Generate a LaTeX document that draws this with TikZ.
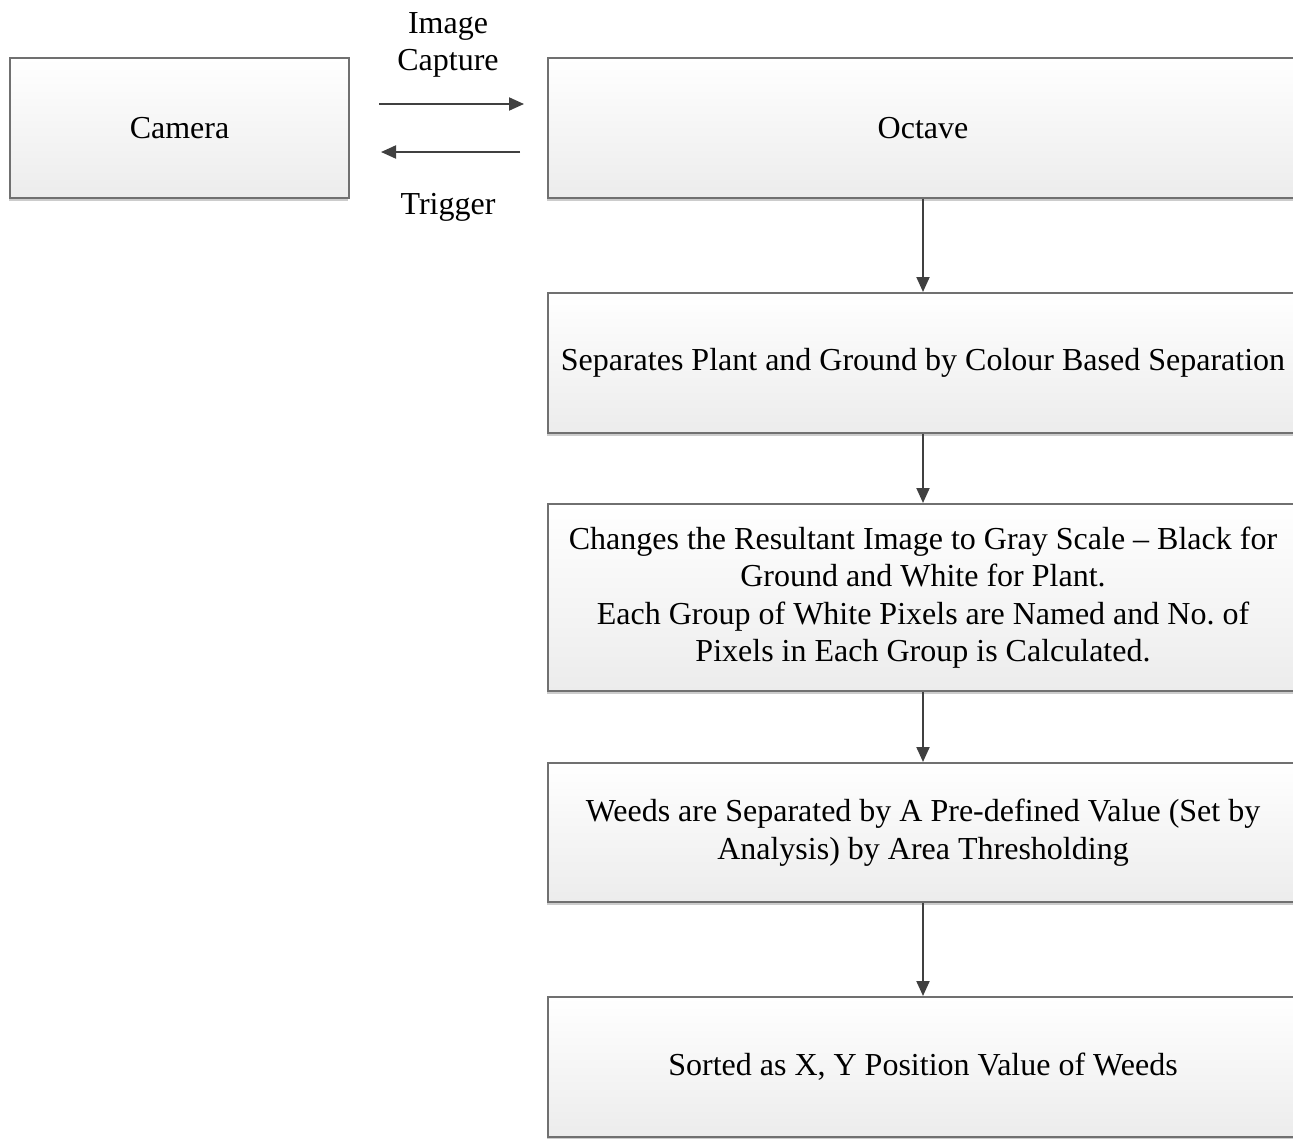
\documentclass[tikz,border=0pt]{standalone}
\usepackage{fontspec}
\setmainfont{Liberation Serif}
\usetikzlibrary{arrows.meta,shadows}
\definecolor{boxline}{RGB}{112,112,112}
\definecolor{boxbot}{RGB}{236,236,236}
\definecolor{arrcol}{RGB}{64,64,64}
\frenchspacing
\tikzset{
  procbox/.style={draw=boxline, line width=2pt, top color=white, bottom color=boxbot,
    rectangle, inner sep=4pt, align=center,
    font=\fontsize{32}{37.5}\selectfont,
    drop shadow={shadow xshift=-1pt, shadow yshift=-3pt, opacity=0.2, fill=black}},
  arr/.style={draw=arrcol, line width=2pt, -{Triangle[length=15pt,width=13pt]}},
  lbl/.style={align=center, font=\fontsize{32}{37.5}\selectfont, inner sep=0pt}
}
\begin{document}
\begin{tikzpicture}[x=1pt,y=-1pt]
\useasboundingbox (0,0) rectangle (1293,1138);
\node[procbox, minimum width=339pt, minimum height=140pt] (cam) at (179.5,128) {Camera};
\node[procbox, minimum width=750pt, minimum height=140pt] (oct) at (923,128) {Octave};
\node[procbox, minimum width=750pt, minimum height=140pt] (sep) at (923,363) {Separates Plant and Ground by Colour Based Separation};
\node[procbox, minimum width=750pt, minimum height=187pt] (gray) at (923,597.5) {Changes the Resultant Image to Gray Scale -- Black for\\Ground and White for Plant.\\Each Group of White Pixels are Named and No. of\\Pixels in Each Group is Calculated.};
\node[procbox, minimum width=750pt, minimum height=139pt] (weed) at (923,832.5) {Weeds are Separated by A Pre-defined Value (Set by\\Analysis) by Area Thresholding};
\node[procbox, minimum width=750pt, minimum height=140pt] (sort) at (923,1067) {Sorted as X, Y Position Value of Weeds};
\draw[arr, shorten <=29pt, shorten >=23pt] ([yshift=24pt]cam.east) -- ([yshift=24pt]oct.west);
\draw[arr, shorten <=27pt, shorten >=31pt] ([yshift=-24pt]oct.west) -- ([yshift=-24pt]cam.east);
\node[lbl] (caplbl) at (448,45) {Image\\Capture};
\node[lbl] (trglbl) at (448,207) {Trigger};
\draw[arr] (oct.south) -- (sep.north);
\draw[arr] (sep.south) -- (gray.north);
\draw[arr] (gray.south) -- (weed.north);
\draw[arr] (weed.south) -- (sort.north);
\end{tikzpicture}
\end{document}
